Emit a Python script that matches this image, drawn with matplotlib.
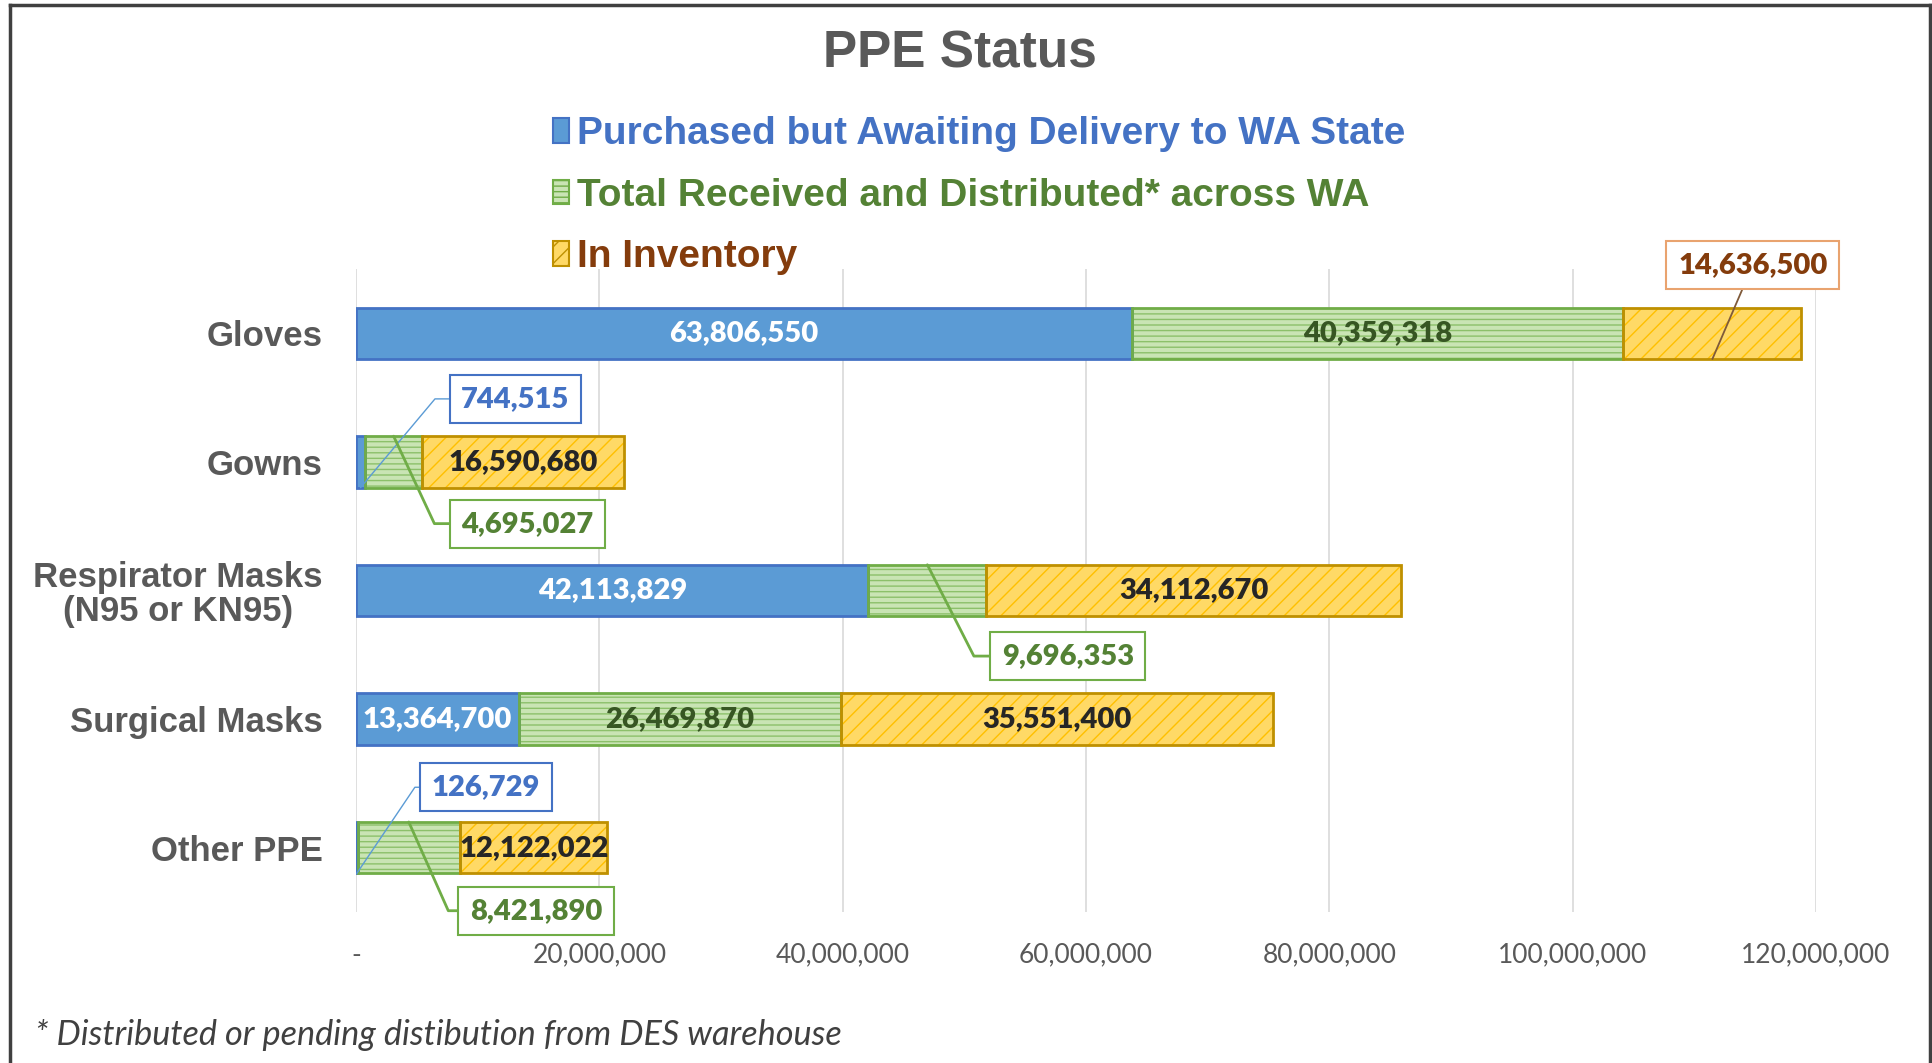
import numpy as np
import matplotlib
matplotlib.use('Agg')
import matplotlib.pyplot as plt
import matplotlib.patches as mpatches
from matplotlib.path import Path
from matplotlib.lines import Line2D
from matplotlib.ticker import FuncFormatter

plt.rcParams['font.family'] = ['Lato', 'DejaVu Sans']

# data
categories = ['Gloves', 'Gowns', 'Respirator Masks\n(N95 or KN95)', 'Surgical Masks', 'Other PPE']
series = ['Purchased but Awaiting Delivery to WA State',
          'Total Received and Distributed* across WA',
          'In Inventory']
awaiting = [63806550, 744515, 42113829, 13364700, 126729]
distributed = [40359318, 4695027, 9696353, 26469870, 8421890]
inventory = [14636500, 16590680, 34112670, 35551400, 12122022]
xticks = [0, 20e6, 40e6, 60e6, 80e6, 100e6, 120e6]

# styles per series: fill, hatch colour, hatch, border, inside label colour, legend text colour
fills = ['#5B9BD5', '#C9E4B4', '#FFD966']
hatch_cols = ['#5B9BD5', '#8CC06A', '#FFC000']
hatches = [None, '---', '//']
borders = ['#4472C4', '#70AD47', '#BF9000']
inner_txt = ['white', '#375623', '#262626']
legend_txt = ['#4472C4', '#548235', '#843C0C']

# callouts: (category, series) -> box position (x, y) and leader angle (deg, display)
callouts = {
    (0, 2): (114.8e6, -0.53, None),
    (1, 0): (13.1e6, 0.51, 50),
    (1, 1): (14.1e6, 1.48, -65),
    (2, 1): (58.5e6, 2.51, -63),
    (4, 0): (10.7e6, 3.53, 56),
    (4, 1): (14.8e6, 4.49, -66),
}
callout_box = {0: '#4472C4', 1: '#70AD47', 2: '#E9A36F'}
callout_txt = {0: '#4472C4', 1: '#548235', 2: '#843C0C'}
callout_line = {0: ('#5B9BD5', 1.0), 1: ('#70AD47', 2.0), 2: ('#7F5A3A', 1.3)}

W, H = 1933, 1063
fig = plt.figure(figsize=(W / 100, H / 100), dpi=100)
ax = fig.add_axes([356 / W, 1 - 912 / H, (1816 - 356) / W, (912 - 269) / H])

y = np.arange(len(categories))
bh = 0.4
vals = [np.array(awaiting), np.array(distributed), np.array(inventory)]
lefts = [np.zeros(len(y)), vals[0], vals[0] + vals[1]]

for k in range(3):
    # hatched fill, then border on top
    ax.barh(y, vals[k], left=lefts[k], height=bh, color=fills[k],
            edgecolor=hatch_cols[k], hatch=hatches[k], linewidth=0, zorder=2)
    ax.barh(y, vals[k], left=lefts[k], height=bh, color='none',
            edgecolor=borders[k], linewidth=2, zorder=2.5)


def label_box(x0, y0, width, height, mutation_size):
    px, py = 0.4 * mutation_size, 0.38 * mutation_size
    x0, y0 = x0 - px, y0 - py
    x1, y1 = x0 + width + 2 * px, y0 + height + 2 * py
    return Path([(x0, y0), (x1, y0), (x1, y1), (x0, y1), (x0, y0)], closed=True)


for i in range(len(categories)):
    for k in range(3):
        v = vals[k][i]
        mid = lefts[k][i] + v / 2
        txt = f'{v:,}'
        if (i, k) in callouts:
            bx, by, ang = callouts[(i, k)]
            ay = i + bh / 2 if by < i else i - bh / 2
            if ang is None:
                cs = 'arc3'
            else:
                cs = f'angle,angleA=0,angleB={ang},rad=0'
            lc, lw = callout_line[k]
            ax.annotate(txt, xy=(mid, ay), xytext=(bx, by), ha='center', va='center',
                        fontsize=21, fontweight='heavy', color=callout_txt[k], zorder=4,
                        bbox=dict(boxstyle=label_box, fc='white', ec=callout_box[k], lw=1.5),
                        arrowprops=dict(arrowstyle='-', connectionstyle=cs, color=lc,
                                        lw=lw, shrinkA=0, shrinkB=0))
        else:
            ax.text(mid, i, txt, ha='center', va='center', fontsize=21,
                    fontweight='heavy', color=inner_txt[k], zorder=4)

ax.set_ylim(len(categories) - 0.5, -0.5)
ax.set_xlim(0, 120e6)
ax.set_xticks(xticks)
ax.xaxis.set_major_formatter(FuncFormatter(lambda v, p: '-' if v == 0 else f'{v:,.0f}'))
ax.tick_params(axis='x', length=0, pad=22, labelsize=19, labelcolor='#595959')
ax.set_yticks(y)
ax.set_yticklabels(categories, fontsize=25, fontweight='bold', color='#595959',
                   family='Liberation Sans', linespacing=1.05)
ax.tick_params(axis='y', length=0, pad=24)
for lbl in ax.get_yticklabels():
    lbl.set_multialignment('center')
ax.xaxis.grid(True, color='#D9D9D9', lw=1.2)
ax.set_axisbelow(True)
for s in ax.spines.values():
    s.set_visible(False)

handles = [mpatches.Patch(facecolor=fills[k], edgecolor=borders[k], hatch=hatches[k], lw=1.5)
           for k in range(3)]
leg = fig.legend(handles, series, loc='upper left', bbox_to_anchor=(553 / W, 1 - 116 / H),
                 bbox_transform=fig.transFigure, frameon=False, borderpad=0, borderaxespad=0,
                 handlelength=0.42, handleheight=0.6, handletextpad=0.2, labelspacing=0.66,
                 labelcolor=legend_txt, prop=dict(family='Liberation Sans', weight='bold', size=28))

fig.text(960 / W, 1 - 54 / H, 'PPE Status', ha='center', va='center', fontsize=37,
         fontweight='bold', color='#595959', family='Liberation Sans')
fig.text(35 / W, 1 - 1045 / H, '* Distributed or pending distibution from DES warehouse',
         ha='left', va='baseline', fontsize=24.7, style='italic', color='#404040')

# outer frame (left, top, right)
for xs, ys in [([10 / W, 10 / W], [0, 1 - 5 / H]),
               ([10 / W, 1930 / W], [1 - 5 / H, 1 - 5 / H]),
               ([1930 / W, 1930 / W], [1 - 5 / H, 0])]:
    fig.add_artist(Line2D(xs, ys, transform=fig.transFigure, color='#404040', lw=2.5))

fig.savefig('out.png', dpi=100, facecolor='white')
